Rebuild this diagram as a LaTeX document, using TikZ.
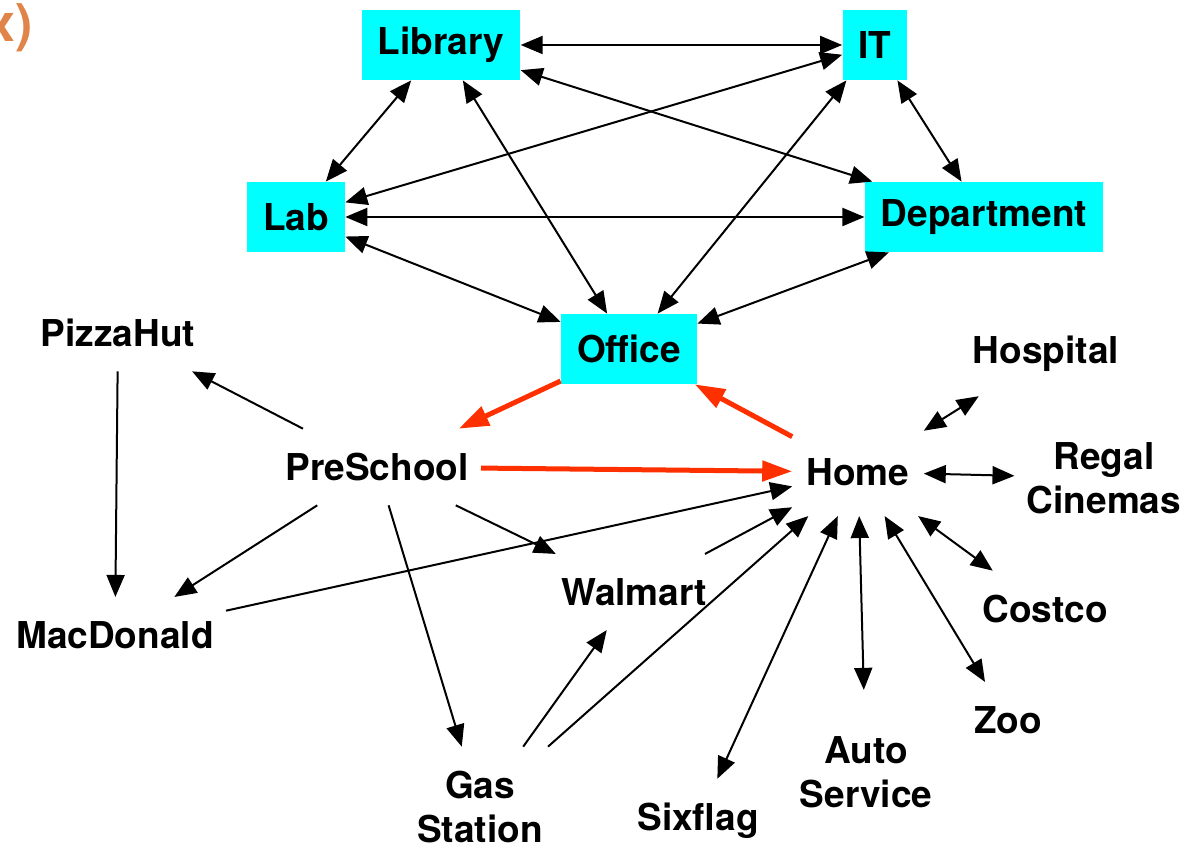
\documentclass[tikz,border=0pt]{standalone}
\usepackage{fontspec}
\setmainfont{TeX Gyre Heros}
\usetikzlibrary{arrows.meta}
\definecolor{room}{HTML}{00FFFF}
\definecolor{trip}{HTML}{FF3000}
\definecolor{tag}{HTML}{E0844A}

\begin{document}
\begin{tikzpicture}[x=0.5pt,y=-0.5pt,
  font=\fontsize{18.5}{22}\selectfont\bfseries,
  box/.style={fill=room,minimum height=35pt,inner xsep=8pt},
  place/.style={align=center,inner xsep=6pt,inner ysep=12pt},
  both/.style={line width=1pt,{Triangle[length=11pt,width=9pt]}-{Triangle[length=11pt,width=9pt]}},
  oneway/.style={line width=1pt,-{Triangle[length=11pt,width=9pt]}},
  daily/.style={trip,line width=2.5pt,-{Triangle[length=15pt,width=10pt]}}]
  \useasboundingbox (0,0) rectangle (1184,849);

  \node[font=\fontsize{26}{30}\selectfont\bfseries,text=tag,anchor=east,inner sep=0pt] (tagx) at (33,28) {x)};

  % Campus
  \node[box] (lib) at (441,45) {Library};
  \node[box] (it) at (875,45) {IT};
  \node[box] (lab) at (296,217) {Lab};
  \node[box] (dept) at (984,217) {Department};
  \node[box] (office) at (629,349) {Office};

  % Places around town
  \node[place] (pizza) at (118,333) {PizzaHut};
  \node[place] (preschool) at (377,467) {PreSchool};
  \node[place,inner ysep=15pt,inner xsep=7pt] (home) at (858,472) {Home};
  \node[place] (hospital) at (1046,354) {Hospital};
  \node[place] (regal) at (1104,478) {Regal\\Cinemas};
  \node[place] (costco) at (1045,609) {Costco};
  \node[place] (zoo) at (1008,720) {Zoo};
  \node[place,inner ysep=23pt] (auto) at (866,772) {Auto\\Service};
  \node[place] (sixflag) at (698,821) {Sixflag};
  \node[place] (gas) at (480,807) {Gas\\Station};
  \node[place] (walmart) at (634,592) {Walmart};
  \node[place] (mac) at (115,635) {MacDonald};

  \draw[both] (lib) -- (it);
  \draw[both] (lib) -- (lab);
  \draw[both] (lib) -- (dept);
  \draw[both] (lib) -- (office);
  \draw[both] (it) -- (lab);
  \draw[both] (it) -- (office);
  \draw[both] (it) -- (dept);
  \draw[both] (lab) -- (dept);
  \draw[both] (lab) -- (office);
  \draw[both] (dept) -- (office);

  % Daily loop
  \draw[daily] (office) -- (preschool);
  \draw[daily] (preschool) -- (home);
  \draw[daily] (home) -- (office);

  \draw[oneway] (preschool) -- (pizza);
  \draw[oneway] (pizza) -- (mac);
  \draw[oneway] (preschool) -- (mac);
  \draw[oneway] (preschool) -- (walmart);
  \draw[oneway] (preschool) -- (gas);
  \draw[oneway] (mac) -- (home);
  \draw[oneway] (walmart) -- (home);
  \draw[oneway] (gas) -- (walmart);
  \draw[oneway] (gas) -- (home);

  \draw[both] (home) -- (hospital);
  \draw[both] (home) -- (regal);
  \draw[both] (home) -- (costco);
  \draw[both] (home) -- (zoo);
  \draw[both] (home) -- (auto);
  \draw[both] (home) -- (sixflag);
\end{tikzpicture}
\end{document}
